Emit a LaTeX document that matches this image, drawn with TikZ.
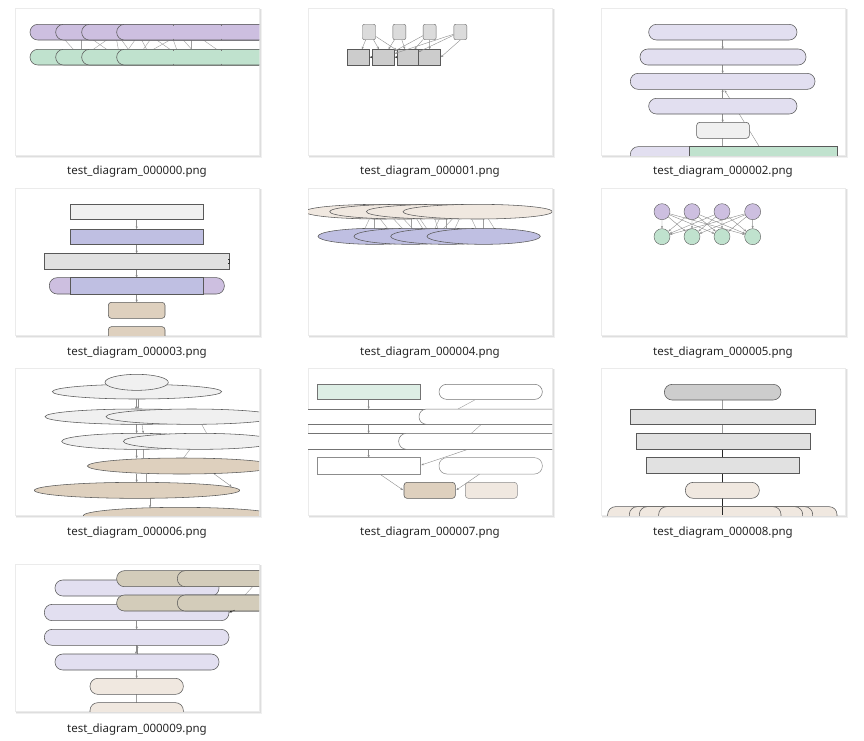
\documentclass[tikz,border=0pt]{standalone}
\usepackage{fontspec}
\setmainfont{Noto Sans}
\usetikzlibrary{arrows.meta}
\definecolor{cpurp}{RGB}{205,191,224}
\definecolor{cgreen}{RGB}{192,226,206}
\definecolor{clav}{RGB}{226,223,240}
\definecolor{cblue}{RGB}{191,191,226}
\definecolor{cltg}{RGB}{240,240,240}
\definecolor{cmg}{RGB}{225,225,225}
\definecolor{ctan}{RGB}{222,208,190}
\definecolor{cbeige}{RGB}{240,232,224}
\definecolor{cmint}{RGB}{221,238,229}
\definecolor{ckhaki}{RGB}{211,204,186}
\definecolor{cgry}{RGB}{205,205,205}
\tikzset{
  sh/.style={draw=black!65, line width=0.55pt},
  ed/.style={draw=black!38, line width=0.4pt},
  arr/.style={draw=black!45, line width=0.4pt, -{Stealth[length=2.6pt,width=2.2pt]}},
  lbl/.style={font=\fontsize{11.5}{13}\selectfont, text=black!85, inner sep=0pt},
  tnode/.style={draw=black!60, fill=black!14, rounded corners=2pt, minimum width=13pt, minimum height=15.5pt, inner sep=0pt},
  bnode/.style={draw=black!65, fill=black!20, minimum width=22pt, minimum height=15.5pt, inner sep=0pt},
  pcirc/.style={circle, draw=black!65, fill=cpurp, minimum size=16pt, inner sep=0pt},
  gcirc/.style={circle, draw=black!65, fill=cgreen, minimum size=16pt, inner sep=0pt},
}
\newcommand\stad[3]{\filldraw[sh,fill=#1,rounded corners=7.8pt] (#2) rectangle (#3);}
\newcommand\rrect[3]{\filldraw[sh,fill=#1,rounded corners=3pt] (#2) rectangle (#3);}
\newcommand\srect[3]{\filldraw[sh,fill=#1] (#2) rectangle (#3);}
\newcommand\frm[4]{%
  \fill[black!6] (#1+1,#2+1) rectangle (#3+3,#4+3);
  \fill[black!13] (#1+1,#2+1) rectangle (#3+1.5,#4+1.5);
  \filldraw[fill=white,draw=black!8,line width=0.4pt] (#1,#2) rectangle (#3,#4);}
\begin{document}
\begin{tikzpicture}[x=1pt,y=-1pt]
\useasboundingbox (0,0) rectangle (864,740);
\fill[white] (0,0) rectangle (864,740);

% frames
\frm{15}{8}{259}{155}
\frm{308}{8}{552}{155}
\frm{601}{8}{845}{155}
\frm{15}{188}{259}{335}
\frm{308}{188}{552}{335}
\frm{601}{188}{845}{335}
\frm{15}{368}{259}{515}
\frm{308}{368}{552}{515}
\frm{601}{368}{845}{515}
\frm{15}{564}{259}{711}

% ---------- thumb 0
\begin{scope}
\clip (15,8) rectangle (259,155);
\begin{scope}[shift={(10,5)},scale=1/3]
\foreach \a/\b in {165/190,215/215,250/290,290/250,320/325,335/355,375/355,395/410,420/400,440/480,480/430,490/500,520/545,545/545,580/620}
  {\draw[ed] (\a,105) -- (\b,133);}
\foreach \l in {60,137,215,320} {\stad{cpurp}{\l,58}{900,105}}
\foreach \l in {60,137,215,320} {\stad{cgreen}{\l,133}{900,180}}
\foreach \x in {490,635} {\draw[black!55,line width=0.4pt] (\x,58) -- (\x,62) (\x,101) -- (\x,105) (\x,133) -- (\x,137) (\x,176) -- (\x,180);}
\end{scope}
\end{scope}

% ---------- thumb 1
\begin{scope}
\clip (308,8) rectangle (552,155);
\begin{scope}[shift={(303,5)},scale=1/3]
\node[tnode] (t1) at (198,81) {};
\node[tnode] (t2) at (289,81) {};
\node[tnode] (t3) at (380,81) {};
\node[tnode] (t4) at (472,81) {};
\node[bnode] (b1) at (166.5,156.5) {};
\node[bnode] (b2) at (241.5,156.5) {};
\node[bnode, minimum width=21.6pt] (b3) at (313.5,156.5) {};
\node[bnode] (b4) at (380,156.5) {};
\draw[arr] (t1) -- (b1);
\draw[arr] (t1) -- (b2);
\draw[arr] (t1) -- (b3);
\draw[arr] (t2) -- (b2);
\draw[arr] (t2) -- (b3);
\draw[arr] (t3) -- (b2);
\draw[arr] (t3) -- (b3);
\draw[arr] (t3) -- (b4);
\draw[arr] (t4) -- (b2);
\draw[arr] (t4) -- (b3);
\draw[arr] (t4.south) -- (b4.east);
\draw[arr,draw=black!75] (b2.west) -- (b1.east);
\draw[arr,draw=black!75] (b3.west) -- (b2.east);
\end{scope}
\end{scope}

% ---------- thumb 2
\begin{scope}
\clip (601,8) rectangle (845,155);
\begin{scope}[shift={(596,5)},scale=1/3]
\coordinate (d0) at (490,425);
\coordinate (d1) at (386,256);
\draw[arr] (d0) -- (d1);
\draw[arr] (380,105) -- (380,132);
\draw[arr] (380,180) -- (380,205);
\draw[arr] (380,280) -- (380,253);
\draw[arr] (380,327) -- (380,352);
\draw[ed] (380,400) -- (380,425);
\stad{clav}{158,58}{603,105}
\stad{clav}{132,132}{630,180}
\stad{clav}{103,205}{657,253}
\stad{clav}{158,280}{603,327}
\rrect{cltg}{302,352}{460,400}
\stad{clav}{103,425}{420,520}
\srect{cgreen}{280,425}{723,520}
\end{scope}
\end{scope}

% ---------- thumb 3
\begin{scope}
\clip (15,188) rectangle (259,335);
\begin{scope}[shift={(10,185)},scale=1/3]
\draw[arr] (380,103) -- (380,132);
\draw[arr] (380,178) -- (380,205);
\draw[arr] (380,253) -- (380,278);
\draw[arr] (380,327) -- (380,352);
\srect{cltg}{180,58}{580,103}
\srect{cblue}{180,132}{580,178}
\srect{cmg}{103,205}{657,253}
\draw[black!80,line width=0.8pt] (655,222) -- (657,222) -- (657,236) -- (655,236);
\stad{cpurp}{118,278}{643,327}
\srect{cblue}{180,278}{580,327}
\rrect{ctan}{295,352}{465,400}
\rrect{ctan}{295,425}{465,500}
\end{scope}
\end{scope}

% ---------- thumb 4
\begin{scope}
\clip (308,188) rectangle (552,335);
\begin{scope}[shift={(303,185)},scale=1/3]
\foreach \a/\b in {200/185,215/215,230/255,270/300,300/330,325/325,340/360,350/372,395/405,410/395,430/430,450/420,470/455,505/520,540/540,555/575}
  {\draw[ed] (\a,100) -- (\b,132);}
\foreach \c in {230,304,414,524} {\filldraw[sh,fill=cbeige] (\c,80) ellipse [x radius=224,y radius=22];}
\foreach \c in {215,323,433,542} {\filldraw[sh,fill=cblue] (\c,154) ellipse [x radius=170,y radius=24];}
\end{scope}
\end{scope}

% ---------- thumb 5
\begin{scope}
\clip (601,188) rectangle (845,335);
\begin{scope}[shift={(596,185)},scale=1/3]
\node[pcirc] (p1) at (198,80) {};
\node[pcirc] (p2) at (288,80) {};
\node[pcirc] (p3) at (378,80) {};
\node[pcirc] (p4) at (470,80) {};
\node[gcirc] (g1) at (198,155) {};
\node[gcirc] (g2) at (288,155) {};
\node[gcirc] (g3) at (378,155) {};
\node[gcirc] (g4) at (470,155) {};
\foreach \i in {1,...,4} {\foreach \j in {1,...,4} {\draw[arr] (p\i) -- (g\j);}}
\end{scope}
\end{scope}

% ---------- thumb 6
\begin{scope}
\clip (15,368) rectangle (259,515);
\begin{scope}[shift={(10,365)},scale=1/3]
\draw[arr] (378,103) -- (378,132);
\draw[arr] (384,103) -- (384,132);
\draw[arr] (380,178) -- (380,205);
\draw[arr] (396,178) -- (400,205);
\draw[arr] (380,253) -- (380,280);
\draw[ed] (400,253) -- (400,280);
\draw[ed] (575,178) -- (590,205);
\draw[ed] (540,253) -- (520,280);
\draw[arr] (380,327) -- (380,352);
\draw[ed] (410,327) -- (410,352);
\draw[arr] (610,325) -- (665,365);
\draw[arr] (420,400) -- (420,428);
\filldraw[sh,fill=cltg] (381,80) ellipse [x radius=254,y radius=22];
\filldraw[sh,fill=cltg] (380,52) ellipse [x radius=95,y radius=24];
\filldraw[sh,fill=cltg] (380,155) ellipse [x radius=275,y radius=23];
\filldraw[sh,fill=cltg] (545,155) ellipse [x radius=257,y radius=23];
\filldraw[sh,fill=cltg] (380,229) ellipse [x radius=225,y radius=24];
\filldraw[sh,fill=cltg] (570,229) ellipse [x radius=230,y radius=24];
\filldraw[sh,fill=ctan] (515,303) ellipse [x radius=283,y radius=24];
\filldraw[sh,fill=ctan] (381,376) ellipse [x radius=308,y radius=24];
\filldraw[sh,fill=ctan] (510,452) ellipse [x radius=290,y radius=25];
\end{scope}
\end{scope}

% ---------- thumb 7
\begin{scope}
\clip (308,368) rectangle (552,515);
\begin{scope}[shift={(303,365)},scale=1/3]
\draw[arr] (197,103) -- (197,132);
\draw[arr] (197,178) -- (197,205);
\draw[arr] (197,253) -- (197,278);
\draw[ed] (515,105) -- (465,132);
\draw[ed] (535,178) -- (505,205);
\draw[arr] (495,253) -- (355,300);
\draw[arr] (230,327) -- (300,375);
\draw[arr] (530,327) -- (460,375);
\filldraw[draw=black!55,line width=0.5pt,fill=cmint] (43,58) rectangle (352,103);
\filldraw[draw=black!55,line width=0.5pt,fill=white,rounded corners=7.5pt] (408,58) rectangle (718,103);
\filldraw[draw=black!55,line width=0.5pt,fill=white] (-100,132) rectangle (900,178);
\filldraw[draw=black!55,line width=0.5pt,fill=white,rounded corners=7.5pt] (348,132) rectangle (950,178);
\filldraw[draw=black!55,line width=0.5pt,fill=white] (-100,205) rectangle (900,253);
\filldraw[draw=black!55,line width=0.5pt,fill=white,rounded corners=7.8pt] (287,205) rectangle (950,253);
\filldraw[draw=black!45,line width=0.5pt,fill=white] (43,278) rectangle (352,327);
\filldraw[draw=black!45,line width=0.5pt,fill=white,rounded corners=7.8pt] (408,278) rectangle (718,327);
\rrect{ctan}{303,352}{457,400}
\filldraw[draw=black!45,line width=0.5pt,fill=cbeige,rounded corners=3pt] (487,352) rectangle (643,400);
\end{scope}
\end{scope}

% ---------- thumb 8
\begin{scope}
\clip (601,368) rectangle (845,515);
\begin{scope}[shift={(596,365)},scale=1/3]
\draw[ed] (380,105) -- (380,253);
\draw[black!85,line width=0.5pt] (380,253) -- (380,425);
\stad{cgry}{205,58}{555,105}
\srect{cmg}{103,132}{657,178}
\srect{cmg}{120,205}{642,253}
\srect{cmg}{152,278}{610,325}
\stad{cbeige}{268,352}{490,400}
\stad{cbeige}{35,425}{723,520}
\stad{cbeige}{100,425}{650,520}
\stad{cbeige}{130,425}{620,520}
\stad{cbeige}{188,425}{555,520}
\draw[black!85,line width=0.5pt] (380,425) -- (380,450);
\end{scope}
\end{scope}

% ---------- thumb 9
\begin{scope}
\clip (15,564) rectangle (259,711);
\begin{scope}[shift={(10,560)},scale=1/3]
\draw[arr] (380,182) -- (380,208);
\draw[arr] (378,256) -- (378,282);
\draw[arr] (382,282) -- (382,256);
\draw[arr] (380,330) -- (380,355);
\draw[ed] (380,403) -- (380,428);
\draw[ed] (705,105) -- (728,80);
\stad{clav}{135,60}{627,108}
\stad{clav}{103,133}{657,182}
\stad{clav}{103,208}{657,256}
\stad{clav}{135,282}{627,330}
\stad{cbeige}{240,355}{520,403}
\stad{cbeige}{240,428}{520,500}
\stad{ckhaki}{320,32}{950,80}
\stad{ckhaki}{502,32}{950,80}
\stad{ckhaki}{320,105}{950,153}
\stad{ckhaki}{502,105}{950,153}
\draw[arr,draw=black!85] (675,150) -- (658,157);
\end{scope}
\end{scope}

% labels
\node[lbl] (l0) at (137,172) {test\_diagram\_000000.png};
\node[lbl] (l1) at (430,172) {test\_diagram\_000001.png};
\node[lbl] (l2) at (723,172) {test\_diagram\_000002.png};
\node[lbl] (l3) at (137,352) {test\_diagram\_000003.png};
\node[lbl] (l4) at (430,352) {test\_diagram\_000004.png};
\node[lbl] (l5) at (723,352) {test\_diagram\_000005.png};
\node[lbl] (l6) at (137,532) {test\_diagram\_000006.png};
\node[lbl] (l7) at (430,532) {test\_diagram\_000007.png};
\node[lbl] (l8) at (723,532) {test\_diagram\_000008.png};
\node[lbl] (l9) at (137,729) {test\_diagram\_000009.png};
\end{tikzpicture}
\end{document}
